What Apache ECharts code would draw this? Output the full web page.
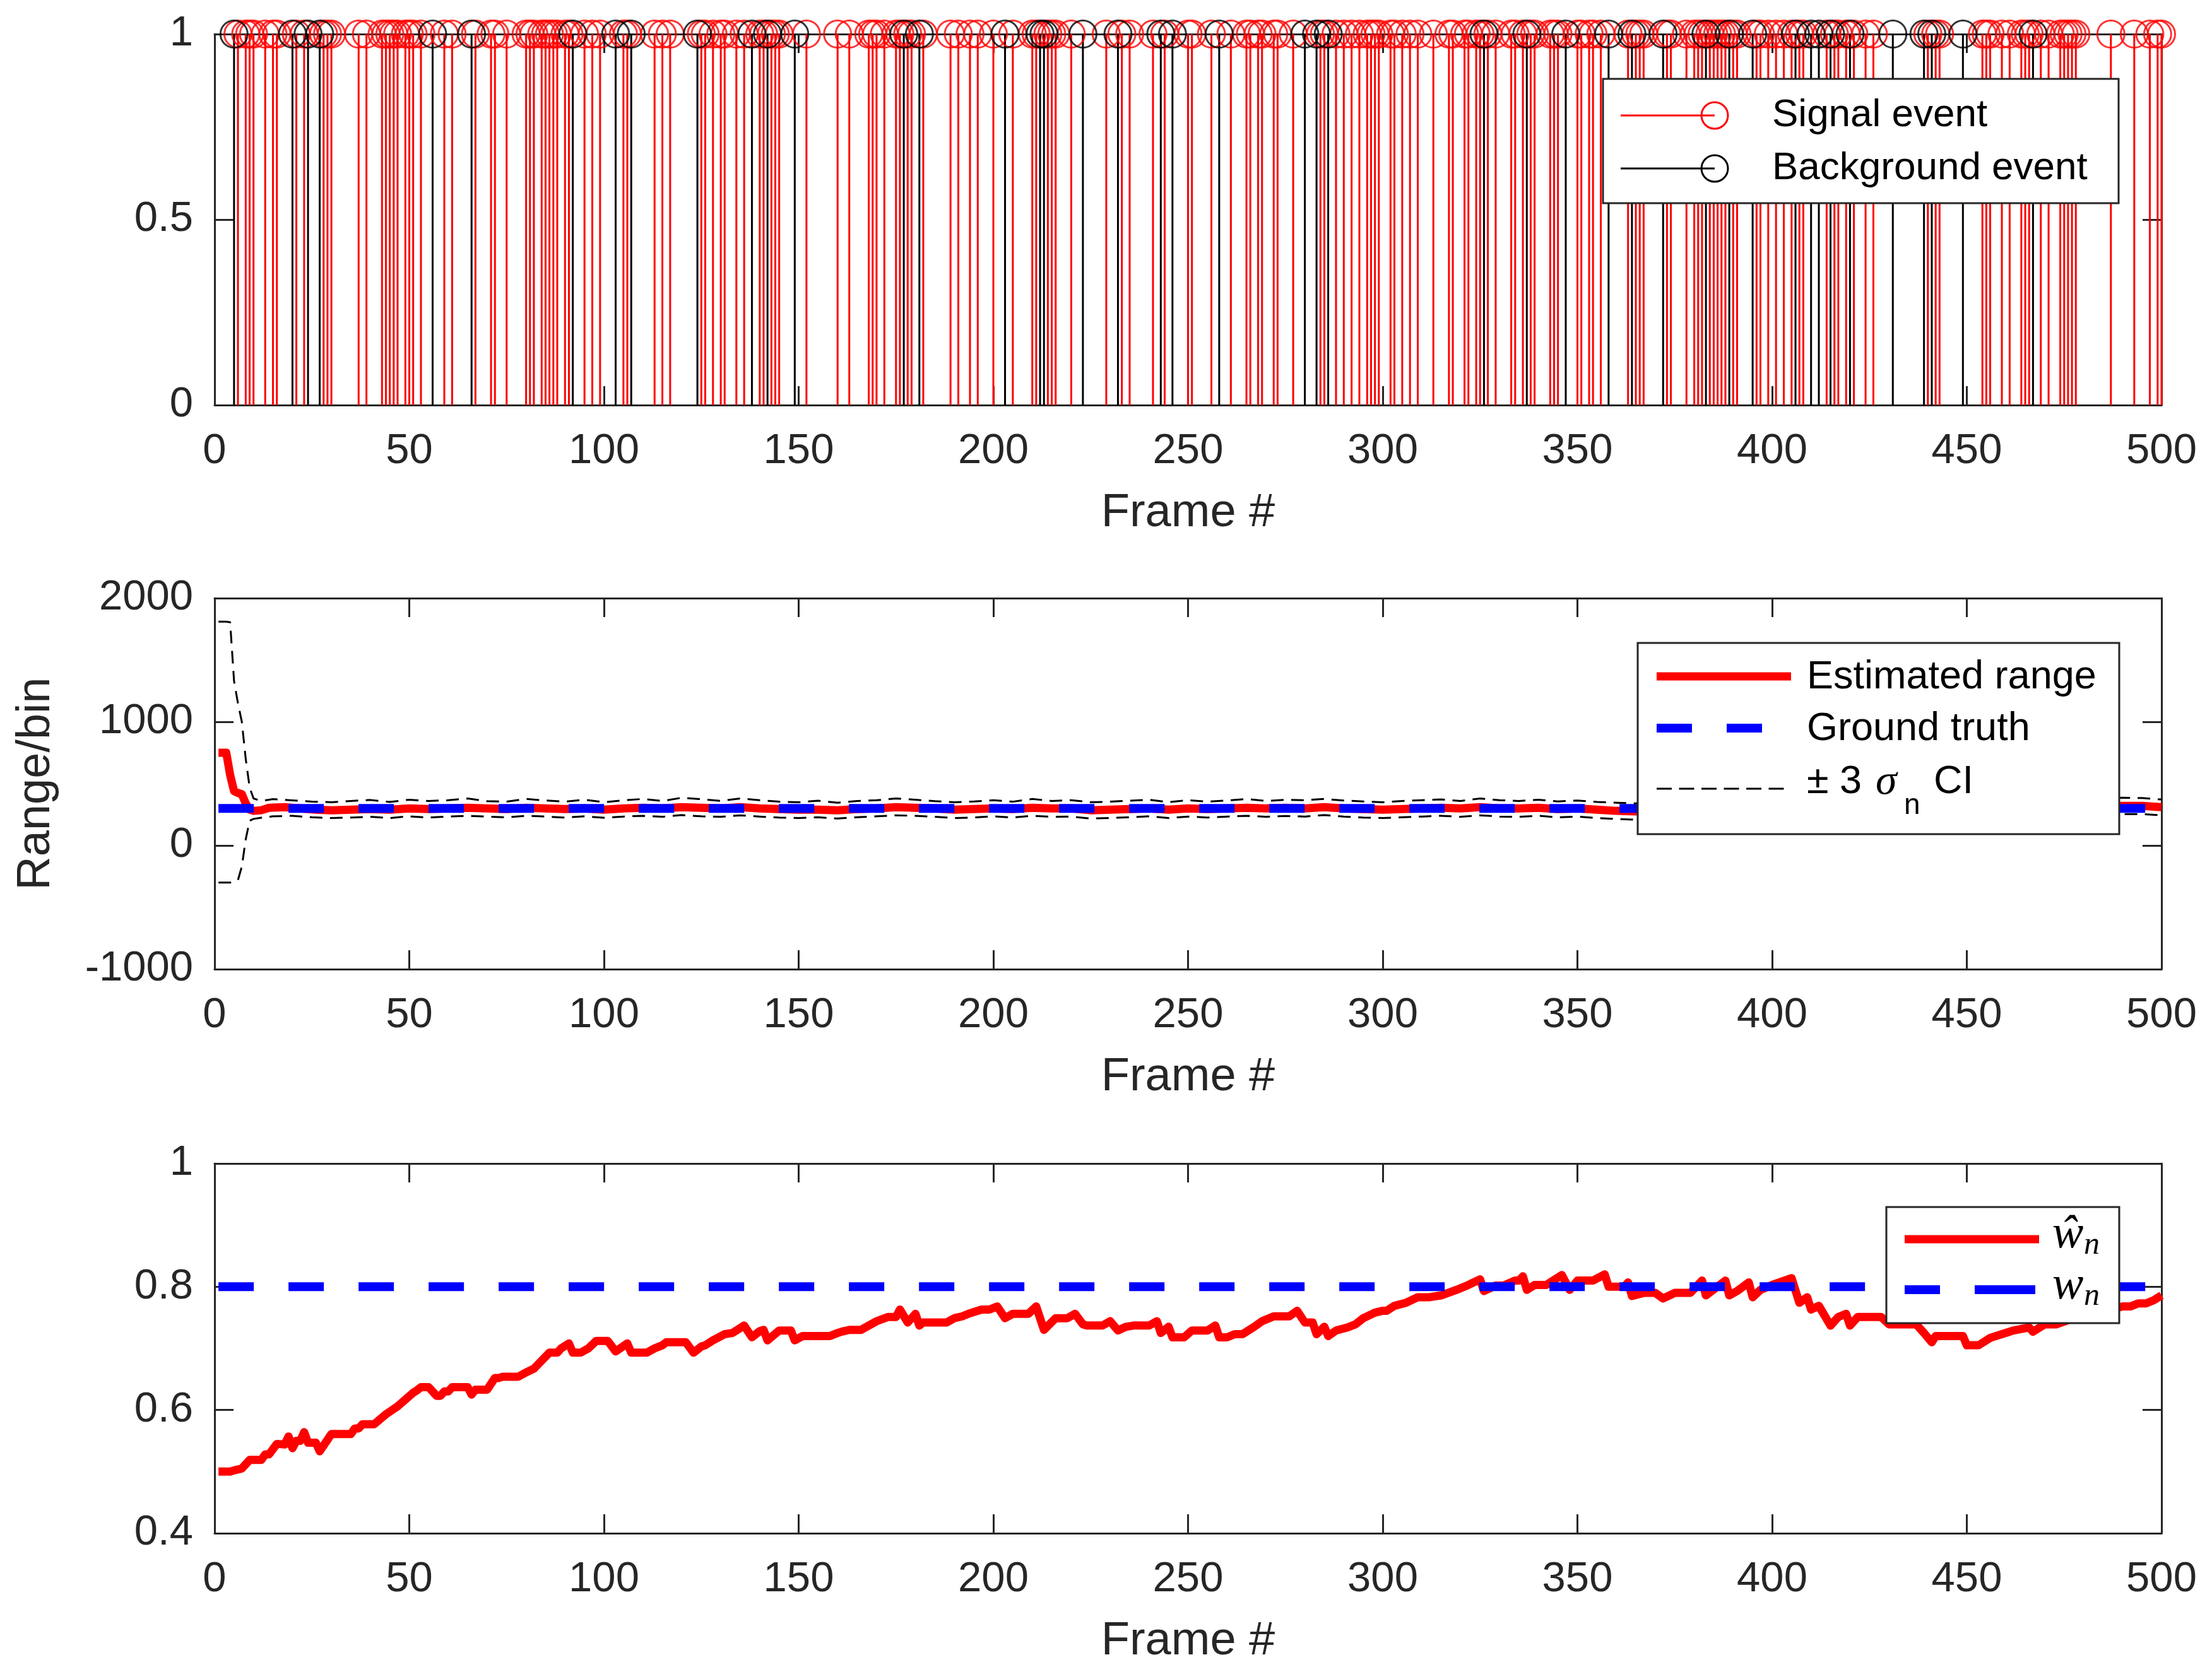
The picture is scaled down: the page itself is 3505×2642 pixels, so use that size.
<!DOCTYPE html>
<html>
<head>
<meta charset="utf-8">
<script src="https://cdn.jsdelivr.net/npm/echarts@6/dist/echarts.min.js"></script>
<style>
  html, body { margin: 0; padding: 0; background: #fff; }
  #chart { width: 3505px; height: 2642px; }
</style>
</head>
<body>
<div id="chart"></div>
<script>
// frames with an event (stem height 1)
const signalFrames = [6, 8, 9, 10, 13, 15, 16, 21, 23, 28, 29, 30, 37, 39, 43, 44, 45, 46, 47, 49, 50, 51, 53, 59, 61, 67, 71, 72, 75, 80, 81, 82, 84, 85, 86, 87, 88, 90, 91, 95, 97, 99,
  105, 106, 113, 115, 117, 125, 126, 128, 130, 131, 134, 136, 140, 141, 143, 144, 145, 152, 160, 163, 168, 169, 170, 172, 175, 176, 178, 179, 182, 189, 191, 194, 196, 200,
  205, 210, 211, 214, 215, 216, 220, 229, 233, 235, 241, 244, 250, 251, 256, 261, 265, 266, 268, 269, 272, 273, 277, 284, 285, 288, 290, 292, 294, 296, 297, 298, 299,
  302, 303, 305, 307, 309, 313, 317, 318, 321, 322, 324, 325, 327, 329, 333, 334, 336, 338, 339, 343, 344, 345, 350, 351, 353, 354, 356, 363, 365, 366, 367, 373, 374, 378,
  380, 381, 382, 384, 385, 386, 387, 388, 390, 391, 396, 397, 399, 401, 403, 405, 407, 408, 414, 416, 417, 419, 421, 424, 426, 440, 442, 443, 454, 455, 456, 459, 461,
  464, 465, 466, 469, 471, 474, 475, 476, 477, 478, 487, 493, 497, 499, 500];
const backgroundFrames = [5, 20, 24, 27, 56, 66, 92, 103, 107, 124, 138, 142, 149, 177, 181, 203, 212, 213, 223, 232, 243, 246, 258, 280, 283, 286,
  326, 337, 347, 358, 364, 372, 383, 389, 395, 406, 410, 412, 415, 420, 431, 439, 441, 449, 467];

// range estimate [frame, range/bin]
const estRange = [[1,750],[2,750],[3,750],[4,570],[5,440],[6,425],[7,415],[8,340],[9,290],[10,280],[12,285],[14,305],[18,310],[22,300],[26,290],[30,285],[35,290],[40,295],
  [45,290],[50,300],[55,295],[60,300],[65,305],[70,300],[75,295],[80,305],[85,300],[90,295],[95,300],[100,290],[105,300],[110,305],[115,300],[120,310],[125,305],[130,300],
  [135,310],[140,300],[145,295],[150,290],[155,290],[160,285],[165,295],[170,300],[175,310],[180,305],[185,300],[190,290],[195,295],[200,300],[205,295],[210,305],[215,300],
  [220,300],[225,285],[230,290],[235,295],[240,300],[245,290],[250,300],[255,295],[260,300],[265,305],[270,300],[275,305],[280,300],[285,310],[290,300],[295,295],[300,290],
  [305,295],[310,300],[315,305],[320,300],[325,310],[330,300],[335,300],[340,305],[345,295],[350,300],[355,290],[360,280],[365,275],[370,285],[375,295],[380,300],[385,305],
  [390,300],[395,300],[400,305],[405,300],[410,310],[415,305],[420,300],[425,310],[430,305],[435,300],[440,305],[445,310],[450,300],[455,305],[460,310],[465,305],[470,300],
  [475,310],[480,305],[485,315],[490,320],[495,320],[500,310]];
const groundTruth = [[1,300],[500,300]];
const ciUpper = [[1,1810],[2,1810],[3,1810],[4,1805],[5,1330],[6,1150],[7,1000],[8,700],[9,470],[10,380],[12,360],[15,375],[20,365],[25,355],[30,350],[35,360],[40,368],
  [45,352],[50,370],[55,360],[60,366],[65,380],[70,358],[75,355],[80,376],[85,364],[90,354],[95,370],[100,350],[105,366],[110,376],[115,360],[120,386],[125,374],[130,360],
  [135,380],[140,366],[145,354],[150,350],[155,362],[160,346],[165,360],[170,366],[175,380],[180,370],[185,358],[190,350],[195,356],[200,366],[205,354],[210,376],[215,360],
  [220,366],[225,350],[230,354],[235,362],[240,370],[245,350],[250,366],[255,354],[260,364],[265,376],[270,360],[275,370],[280,366],[285,376],[290,364],[295,356],[300,350],
  [305,360],[310,366],[315,372],[320,360],[325,380],[330,366],[335,360],[340,370],[345,356],[350,364],[355,352],[360,346],[365,340],[370,352],[375,360],[380,366],[385,372],
  [390,360],[395,364],[400,370],[405,360],[410,376],[415,366],[420,360],[425,376],[430,370],[435,360],[440,368],[445,376],[450,360],[455,370],[460,376],[465,366],[470,360],
  [475,376],[480,370],[485,382],[490,386],[495,384],[500,372]];
const ciLower = [[1,-300],[2,-300],[3,-300],[4,-300],[5,-285],[6,-280],[7,-170],[8,50],[9,200],[10,215],[12,225],[15,236],[20,240],[25,228],[30,222],[35,226],[40,232],
  [45,222],[50,236],[55,226],[60,234],[65,240],[70,234],[75,228],[80,240],[85,234],[90,226],[95,236],[100,224],[105,234],[110,240],[115,232],[120,246],[125,236],[130,232],
  [135,244],[140,234],[145,226],[150,222],[155,228],[160,218],[165,228],[170,236],[175,244],[180,240],[185,232],[190,222],[195,226],[200,236],[205,226],[210,240],[215,232],
  [220,234],[225,218],[230,222],[235,228],[240,236],[245,222],[250,234],[255,226],[260,234],[265,240],[270,232],[275,238],[280,234],[285,246],[290,234],[295,226],[300,222],
  [305,228],[310,234],[315,240],[320,232],[325,244],[330,234],[335,232],[340,240],[345,228],[350,234],[355,222],[360,214],[365,208],[370,218],[375,228],[380,234],[385,240],
  [390,232],[395,234],[400,240],[405,232],[410,244],[415,238],[420,232],[425,244],[430,240],[435,232],[440,238],[445,244],[450,232],[455,240],[460,244],[465,238],[470,232],
  [475,244],[480,240],[485,250],[490,254],[495,254],[500,244]];

// weight estimate [frame, w_hat]
const weightEst = [[1,0.500],[4,0.500],[5,0.502],[7,0.505],[9,0.519],[12,0.519],[13,0.528],[14,0.528],[16,0.545],[18,0.544],[19,0.557],[20,0.538],[21,0.550],[22,0.550],
  [23,0.564],[24,0.547],[26,0.547],[27,0.533],[30,0.561],[35,0.561],[36,0.570],[37,0.570],[38,0.577],[41,0.577],[44,0.593],[47,0.606],[51,0.628],[52,0.632],[53,0.637],
  [55,0.637],[57,0.623],[58,0.623],[59,0.630],[60,0.630],[61,0.637],[65,0.637],[66,0.625],[67,0.633],[70,0.633],[72,0.652],[73,0.652],[74,0.654],[78,0.654],[80,0.661],
  [82,0.667],[84,0.680],[86,0.693],[88,0.693],[89,0.700],[91,0.708],[92,0.693],[94,0.693],[96,0.700],[98,0.712],[101,0.712],[103,0.695],[106,0.708],[107,0.693],[111,0.693],
  [113,0.700],[115,0.705],[116,0.710],[121,0.710],[123,0.693],[125,0.703],[126,0.705],[128,0.713],[131,0.723],[133,0.725],[134,0.729],[136,0.737],[138,0.718],[140,0.728],
  [141,0.730],[142,0.713],[145,0.729],[148,0.729],[149,0.713],[151,0.720],[158,0.720],[160,0.725],[161,0.727],[163,0.730],[166,0.730],[170,0.744],[173,0.751],[175,0.751],
  [176,0.763],[178,0.742],[180,0.756],[181,0.737],[182,0.742],[188,0.742],[190,0.749],[192,0.752],[194,0.757],[197,0.763],[199,0.763],[201,0.768],[203,0.749],[205,0.756],
  [209,0.756],[211,0.768],[213,0.730],[216,0.749],[219,0.749],[221,0.756],[223,0.739],[224,0.737],[228,0.737],[230,0.744],[232,0.729],[234,0.735],[236,0.737],[240,0.737],
  [242,0.744],[243,0.725],[245,0.735],[246,0.718],[249,0.718],[251,0.729],[255,0.729],[257,0.737],[258,0.718],[260,0.718],[262,0.723],[264,0.723],[267,0.735],[269,0.744],
  [272,0.752],[276,0.752],[278,0.761],[280,0.742],[282,0.742],[283,0.723],[285,0.735],[286,0.720],[288,0.729],[291,0.734],[293,0.739],[295,0.749],[298,0.758],[300,0.761],
  [301,0.761],[303,0.769],[306,0.774],[309,0.783],[312,0.783],[315,0.786],[319,0.795],[322,0.803],[325,0.812],[326,0.793],[329,0.802],[331,0.802],[334,0.810],[335,0.810],
  [336,0.817],[337,0.795],[339,0.803],[342,0.803],[346,0.819],[348,0.795],[350,0.810],[354,0.810],[357,0.820],[358,0.800],[362,0.800],[363,0.807],[364,0.785],[367,0.790],
  [370,0.790],[372,0.781],[375,0.790],[379,0.790],[382,0.810],[383,0.786],[388,0.810],[389,0.786],[391,0.793],[394,0.807],[395,0.783],[397,0.795],[400,0.803],[405,0.814],
  [407,0.774],[409,0.783],[410,0.763],[412,0.769],[415,0.737],[417,0.751],[419,0.756],[420,0.737],[422,0.751],[428,0.751],[430,0.739],[437,0.739],[439,0.725],[441,0.710],
  [442,0.720],[449,0.720],[450,0.705],[453,0.705],[456,0.717],[459,0.723],[462,0.729],[466,0.734],[467,0.727],[470,0.739],[473,0.739],[477,0.748],[483,0.757],[487,0.763],
  [490,0.768],[492,0.768],[494,0.773],[496,0.773],[498,0.778],[500,0.786]];
const weightTrue = [[1,0.8],[500,0.8]];

const AX = '#262626';
const SANS = '"Liberation Sans", Arial, Helvetica, sans-serif';
const SERIF = '"Liberation Serif", "Times New Roman", serif';

const grids = [
  { left: 340, top: 54, width: 3085, height: 588 },
  { left: 340, top: 948, width: 3085, height: 588 },
  { left: 340, top: 1844, width: 3085, height: 586 }
];

function fmt(v) { return String(parseFloat(Number(v).toFixed(6))); }

function makeX(gridIndex, pos) {
  const main = pos === 'bottom';
  return {
    type: 'value', gridIndex, position: pos, min: 0, max: 500, interval: 50,
    axisLine: { show: true, onZero: false, lineStyle: { color: AX, width: 3 } },
    axisTick: { show: true, inside: true, length: 30, lineStyle: { color: AX, width: 3 } },
    axisLabel: { show: main, margin: 40, fontSize: 67, color: AX, fontFamily: SANS, showMinLabel: true, showMaxLabel: true, formatter: fmt },
    splitLine: { show: false },
    name: main ? 'Frame #' : '', nameLocation: 'middle', nameGap: 135,
    nameTextStyle: { fontSize: 74, color: AX, fontFamily: SANS }
  };
}

function makeY(gridIndex, pos, min, max, interval, name) {
  const main = pos === 'left';
  return {
    type: 'value', gridIndex, position: pos, min, max, interval,
    axisLine: { show: true, onZero: false, lineStyle: { color: AX, width: 3 } },
    axisTick: { show: true, inside: true, length: 30, lineStyle: { color: AX, width: 3 } },
    axisLabel: { show: main, margin: 34, fontSize: 67, color: AX, fontFamily: SANS, showMinLabel: true, showMaxLabel: true, formatter: fmt },
    splitLine: { show: false },
    name: main && name ? name : '', nameLocation: 'middle', nameGap: 245,
    nameTextStyle: { fontSize: 74, color: AX, fontFamily: SANS }
  };
}

const xAxis = [], yAxis = [];
[0, 1, 2].forEach(g => { xAxis.push(makeX(g, 'bottom'), makeX(g, 'top')); });
yAxis.push(makeY(0, 'left', 0, 1, 0.5), makeY(0, 'right', 0, 1, 0.5));
yAxis.push(makeY(1, 'left', -1000, 2000, 1000, 'Range/bin'), makeY(1, 'right', -1000, 2000, 1000));
yAxis.push(makeY(2, 'left', 0.4, 1, 0.2), makeY(2, 'right', 0.4, 1, 0.2));

function stems(frames, color) {
  return {
    type: 'bar', xAxisIndex: 0, yAxisIndex: 0, barWidth: 3, barGap: '-100%',
    data: frames.map(f => [f, 1]), itemStyle: { color }, clip: false, silent: true
  };
}
function heads(frames, color) {
  return {
    type: 'scatter', xAxisIndex: 0, yAxisIndex: 0, symbol: 'circle', symbolSize: 43,
    data: frames.map(f => [f, 1]), clip: false, silent: true, z: 4,
    itemStyle: { color: 'rgba(0,0,0,0)', borderColor: color, borderWidth: 3 }
  };
}
function trace(data, xi, yi, color, width, dash, z) {
  return {
    type: 'line', xAxisIndex: xi, yAxisIndex: yi, data, showSymbol: false, symbol: 'none', z,
    lineStyle: { color, width, type: dash || 'solid', cap: 'butt', join: 'round' }, silent: true
  };
}

const series = [
  stems(signalFrames, '#ff0000'),
  stems(backgroundFrames, '#000000'),
  heads(signalFrames, '#ff0000'),
  heads(backgroundFrames, '#000000'),
  trace(estRange, 2, 2, '#ff0000', 13, null, 3),
  trace(groundTruth, 2, 2, '#0000ff', 14, [56, 55], 4),
  trace(ciUpper, 2, 2, '#000000', 3, [20, 12], 5),
  trace(ciLower, 2, 2, '#000000', 3, [20, 12], 5),
  trace(weightEst, 4, 4, '#ff0000', 13, null, 3),
  trace(weightTrue, 4, 4, '#0000ff', 14, [56, 55], 4)
];

// legend boxes drawn by hand to follow the MATLAB layout
function box(x, y, w, h) {
  return { type: 'rect', z: 100, shape: { x, y, width: w, height: h }, style: { fill: '#fff', stroke: AX, lineWidth: 3 } };
}
function seg(x1, x2, y, color, width, dash) {
  return { type: 'line', z: 101, shape: { x1, y1: y, x2, y2: y }, style: { stroke: color, lineWidth: width, lineDash: dash || null, lineCap: 'butt' } };
}
function label(x, y, text, size, family, italic) {
  return {
    type: 'text', z: 101, x, y,
    style: { text, fontSize: size, fontFamily: family, fontStyle: italic ? 'italic' : 'normal', fill: '#000', verticalAlign: 'middle', align: 'left' }
  };
}

const graphic = [
  box(2540, 125, 817, 197),
  seg(2568, 2717, 183, '#ff0000', 3),
  { type: 'circle', z: 101, shape: { cx: 2717, cy: 183, r: 21 }, style: { fill: 'none', stroke: '#ff0000', lineWidth: 3 } },
  label(2808, 183, 'Signal event', 62, SANS),
  seg(2568, 2717, 267, '#000000', 3),
  { type: 'circle', z: 101, shape: { cx: 2717, cy: 267, r: 21 }, style: { fill: 'none', stroke: '#000000', lineWidth: 3 } },
  label(2808, 267, 'Background event', 62, SANS),

  box(2595, 1019, 763, 303),
  seg(2625, 2838, 1072, '#ff0000', 13),
  label(2863, 1074, 'Estimated range', 63, SANS),
  seg(2625, 2838, 1154, '#0000ff', 14, [56, 55]),
  label(2863, 1156, 'Ground truth', 63, SANS),
  seg(2625, 2838, 1250, '#000000', 3, [24, 11.5]),
  label(2863, 1240, '\u00b1 3', 63, SANS),
  label(2972, 1240, '\u03c3', 68, SERIF, true),
  label(3017, 1277, 'n', 46, SANS),
  label(3064, 1240, 'CI', 63, SANS),

  box(2989, 1913, 369, 184),
  seg(3018, 3231, 1964, '#ff0000', 13),
  label(3252, 1958, '\u0175', 74, SERIF, true),
  label(3302, 1974, 'n', 50, SERIF, true),
  seg(3018, 3074, 2044, '#0000ff', 14),
  seg(3129, 3225, 2044, '#0000ff', 14),
  label(3252, 2039, 'w', 74, SERIF, true),
  label(3302, 2055, 'n', 50, SERIF, true)
];

const chart = echarts.init(document.getElementById('chart'), null, { renderer: 'canvas' });
chart.setOption({
  animation: false,
  backgroundColor: '#ffffff',
  grid: grids,
  xAxis,
  yAxis,
  series,
  graphic
});
</script>
</body>
</html>
